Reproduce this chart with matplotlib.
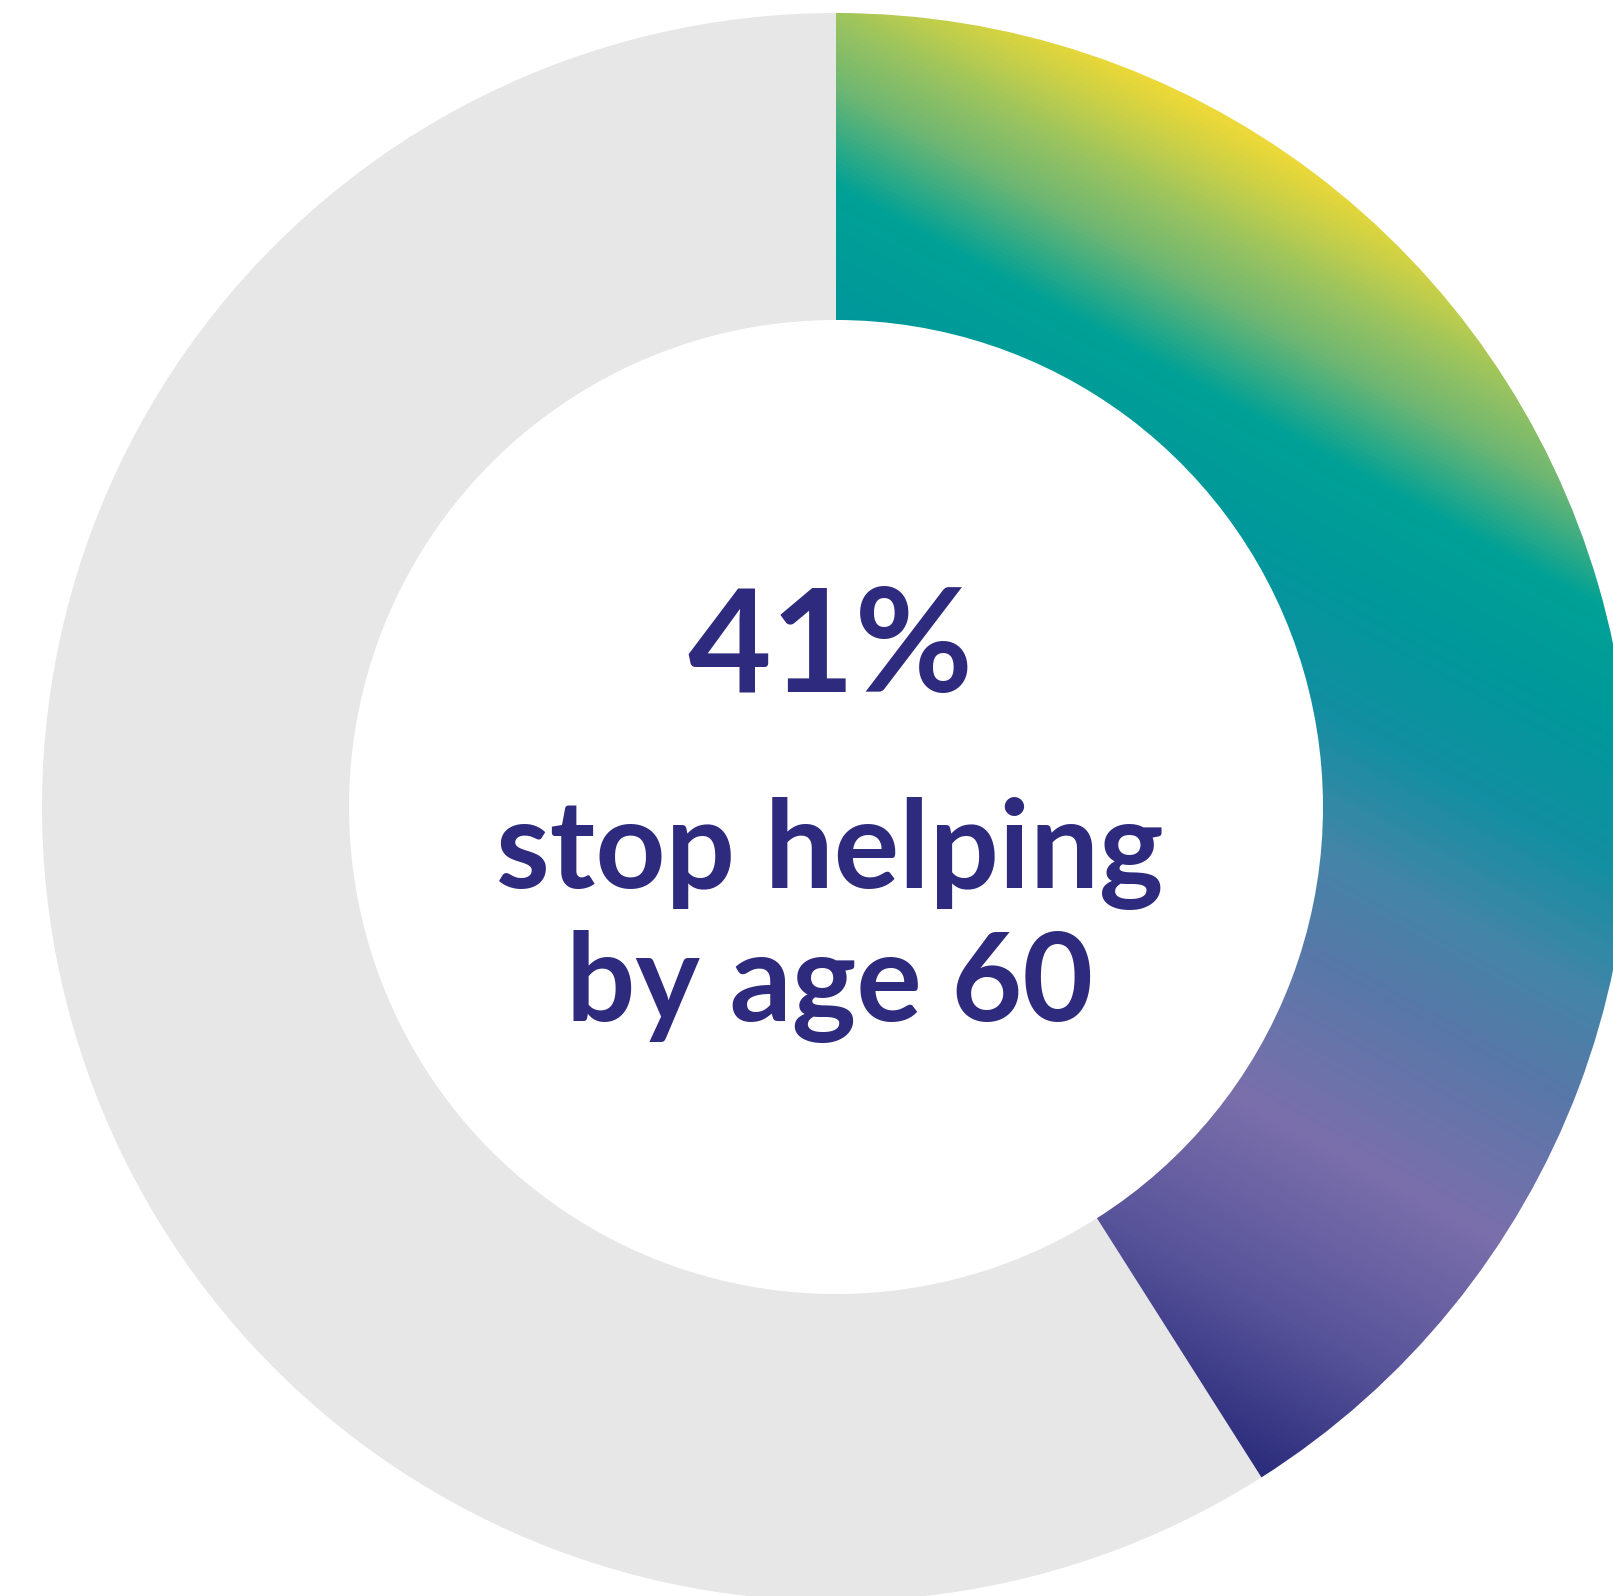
import numpy as np
import matplotlib
matplotlib.use("Agg")
import matplotlib.pyplot as plt
from matplotlib.patches import Wedge
from matplotlib.colors import LinearSegmentedColormap

# ---- data ----
shares = [41, 59]                      # percent: stop helping, remainder
big_label = "41%"
sub_lines = ["stop helping", "by age 60"]

# gradient stops (position along gradient axis in px, colour)
grad_pos = [-380, -230, -60, 100, 200, 320, 440, 545, 635, 695, 750, 790]
grad_col = ["#2b2c7c", "#58549a", "#7b6fac", "#5878a9", "#4485a8", "#138fa2",
            "#00989b", "#00a196", "#70b772", "#9cc45e", "#cdd146", "#ecd838"]

W, H = 1613, 1596
fig = plt.figure(figsize=(W / 100, H / 100), dpi=100)
ax = fig.add_axes([0, 0, 1, 1])
ax.set_xlim(0, W)
ax.set_ylim(0, H)
ax.set_aspect("equal")
ax.axis("off")

cx, cy = 836, H - 807
R, r = 794, 487
width = R - r

total = sum(shares)
a_end = 90
a_start = 90 - 360 * shares[0] / total

# grey remainder
grey = Wedge((cx, cy), R, 90, a_start + 360, width=width, facecolor="#e7e7e7",
             edgecolor="none")
ax.add_patch(grey)

# gradient slice
slice_patch = Wedge((cx, cy), R, a_start, a_end, width=width, facecolor="none",
                    edgecolor="none")
ax.add_patch(slice_patch)

xs = np.arange(W) + 0.5
ys = np.arange(H) + 0.5
X, Y = np.meshgrid(xs, ys)
n = np.array([0.55, 1.0])
n /= np.linalg.norm(n)
S = n[0] * (X - cx) + n[1] * (Y - cy)
lo, hi = grad_pos[0], grad_pos[-1]
cmap = LinearSegmentedColormap.from_list(
    "g", [((p - lo) / (hi - lo), c) for p, c in zip(grad_pos, grad_col)])
img = ax.imshow(np.clip(S, lo, hi), cmap=cmap, vmin=lo, vmax=hi, origin="lower",
                extent=(0, W, 0, H), interpolation="bilinear", zorder=1)
img.set_clip_path(slice_patch)
ax.set_xlim(0, W)
ax.set_ylim(0, H)

txt_col = "#2e2a7e"
ax.text(830, H - 692, big_label, ha="center", va="baseline", fontsize=104,
        fontweight="bold", family="Lato", color=txt_col, zorder=3)
ax.text(830, H - 888, sub_lines[0], ha="center", va="baseline", fontsize=88,
        fontweight="bold", family="Lato", color=txt_col, zorder=3)
ax.text(830, H - 1021, sub_lines[1], ha="center", va="baseline", fontsize=88,
        fontweight="bold", family="Lato", color=txt_col, zorder=3)

fig.savefig("out.png", dpi=100, facecolor="white")
